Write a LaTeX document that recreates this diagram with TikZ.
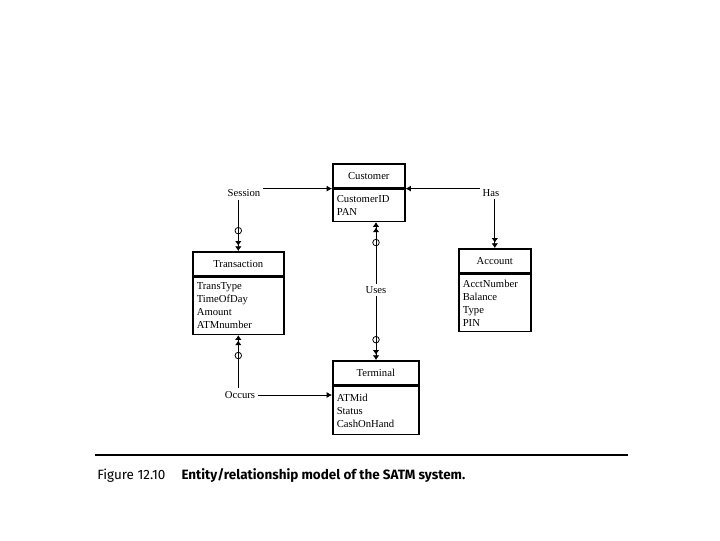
\documentclass[tikz,border=0pt]{standalone}
\usepackage{fontspec}
\setmainfont{Liberation Serif}
\newfontfamily\capfont{Fira Sans}
\usetikzlibrary{arrows.meta,positioning}

\tikzset{
  ent/.style={draw, line width=1.2pt, minimum width=#1, minimum height=18pt, inner sep=0pt, anchor=north west},
  attrs/.style 2 args={draw, line width=1.2pt, text width=#1, minimum height=#2, align=left, inner xsep=3pt, inner ysep=2pt},
  rel/.style={inner sep=2pt},
  one/.style={semithick, -{Latex[length=4pt,width=4.5pt]}},
  many/.style={semithick, -{Circle[open,length=5.5pt,sep=5pt]Latex[length=3.5pt,width=5pt,sep=0.5pt]Latex[length=3.5pt,width=5pt]}},
  manysure/.style={semithick, -{Latex[length=3.5pt,width=5pt,sep=0.5pt]Latex[length=3.5pt,width=5pt]}}
}

\begin{document}
\begin{tikzpicture}[x=0.75pt,y=-0.75pt, every node/.style={font=\fontsize{8}{9.75}\selectfont}]
\useasboundingbox (0,0) rectangle (720,540);
% entities
\node[ent=54pt] (cust) at (332,163) {Customer};
\node[attrs={48pt}{24pt}, below right=0pt and 0pt of cust.south west] (custattr) {CustomerID\\PAN};
\node[ent=68.25pt] (trans) at (192,251) {Transaction};
\node[attrs={62.25pt}{42.75pt}, below right=0pt and 0pt of trans.south west] (transattr) {TransType\\TimeOfDay\\Amount\\ATMnumber};
\node[ent=54pt] (acct) at (458,248) {Account};
\node[attrs={48pt}{42.75pt}, below right=0pt and 0pt of acct.south west] (acctattr) {AcctNumber\\Balance\\Type\\PIN};
\node[ent=64.5pt] (term) at (332,360) {Terminal};
\node[attrs={58.5pt}{36pt}, below right=0pt and 0pt of term.south west] (termattr) {ATMid\\Status\\CashOnHand};
% relationships
\node[rel] (session) at (244,193) {Session};
\node[rel] (has) at (491,193) {Has};
\node[rel] (uses) at (376,290) {Uses};
\node[rel] (occurs) at (240,395) {Occurs};
% connectors
\draw[one] (session.east |- cust.south) -- (cust.south west);
\draw[many] (session.south -| trans.north) -- (trans.north);
\draw[one] (has.west |- cust.south) -- (cust.south east);
\draw[manysure] (has.south -| acct.north) -- (acct.north);
\draw[many] (uses.north) -- (uses.north |- custattr.south);
\draw[many] (uses.south) -- (uses.south |- term.north);
\draw[many] (occurs.north -| transattr.south) -- (transattr.south);
\draw[one] (occurs.east) -- (occurs.east -| termattr.west);
% caption
\draw[line width=2.2pt] (95,455) -- (628,455);
\node[anchor=west, inner sep=0pt, font=\capfont\fontsize{10.1}{12}\selectfont] (cap) at (97,475)
  {Figure 12.10\hspace{1.2em}\bfseries Entity/relationship model of the SATM system.};
\end{tikzpicture}
\end{document}
